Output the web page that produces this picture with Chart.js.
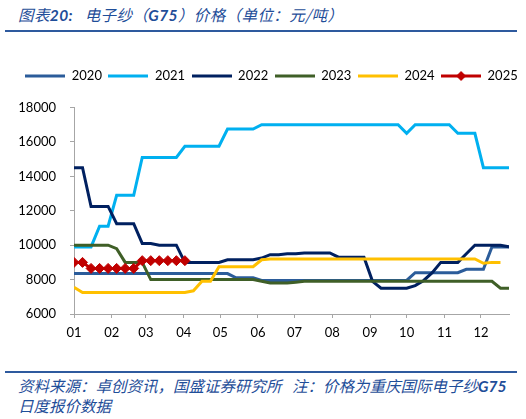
<!DOCTYPE html>
<html>
<head>
<meta charset="utf-8">
<script src="https://cdn.jsdelivr.net/npm/chart.js@4/dist/chart.umd.min.js"></script>
<style>
  html, body { margin: 0; padding: 0; background: #fff; }
  body { width: 526px; height: 419px; position: relative; overflow: hidden; }
  .cjk { font-family: "Noto Sans CJK SC", sans-serif; font-style: italic; color: #1F4E99; }
  .lat { font-family: "Lato", sans-serif; font-weight: bold; font-style: italic; }
  #title { position: absolute; left: 18px; top: 4px; font-size: 15.5px; line-height: 20px; letter-spacing: 0.4px; white-space: nowrap; }
  .rule { position: absolute; left: 5px; width: 512px; height: 2px; background: #2E5A9E; }
  #wrap { position: absolute; left: 0; top: 40px; width: 526px; height: 310px; }
  #source { position: absolute; left: 18px; top: 376px; font-size: 15.5px; line-height: 19px; white-space: nowrap; }
</style>
</head>
<body>
<div id="title" class="cjk">图表<span class="lat">20:</span>&nbsp;&nbsp; 电子纱（<span class="lat">G75</span>）价格（单位：元/吨）</div>
<div class="rule" style="top:30px"></div>
<div id="wrap"><canvas id="priceChart"></canvas></div>
<div class="rule" style="top:371px"></div>
<div id="source" class="cjk">资料来源：卓创资讯，国盛证券研究所&nbsp;&nbsp; 注：价格为重庆国际电子纱<span class="lat">G75</span><br>日度报价数据</div>

<script>
// week index of the year (x axis), month tick positions and labels
const weekIndex = Array.from({ length: 52 }, (_, i) => i);
const monthTicks = [0, 4.43, 8.43, 12.86, 17.14, 21.57, 25.86, 30.29, 34.71, 39, 43.43, 47.71];
const monthLabels = ["01", "02", "03", "04", "05", "06", "07", "08", "09", "10", "11", "12"];
const yTicks = [6000, 8000, 10000, 12000, 14000, 16000, 18000];

const y2020 = [
  8350, 8350, 8350, 8350, 8350, 8350, 8350, 8350, 8350, 8350, 8350, 8350, 8350,
  8350, 8350, 8350, 8350, 8350, 8350, 8100, 8100, 8100, 7950, 7950, 7950, 7950,
  7950, 7950, 7950, 7950, 7950, 7950, 7950, 7950, 7950, 7950, 7950, 7950, 7950,
  7950, 8400, 8400, 8400, 8400, 8400, 8400, 8600, 8600, 8600, 9900, 9900, 9900,
];
const y2021 = [
  9900, 9900, 9900, 11100, 11100, 12900, 12900, 12900, 15100, 15100, 15100, 15100, 15100,
  15750, 15750, 15750, 15750, 15750, 16750, 16750, 16750, 16750, 17000, 17000, 17000, 17000,
  17000, 17000, 17000, 17000, 17000, 17000, 17000, 17000, 17000, 17000, 17000, 17000, 17000,
  16500, 17000, 17000, 17000, 17000, 17000, 16500, 16500, 16500, 14500, 14500, 14500, 14500,
];
const y2022 = [
  14500, 14500, 12250, 12250, 12250, 11250, 11250, 11250, 10100, 10100, 10000, 10000, 10000,
  9000, 9000, 9000, 9000, 9000, 9150, 9150, 9150, 9150, 9250, 9450, 9450, 9500,
  9500, 9550, 9550, 9550, 9550, 9300, 9300, 9300, 9300, 7900, 7500, 7500, 7500,
  7500, 7650, 7950, 8400, 9000, 9000, 9000, 9500, 10000, 10000, 10000, 10000, 9900,
];
const y2023 = [
  10000, 10000, 10000, 10000, 10000, 9800, 9000, 9000, 9000, 8000, 8000, 8000, 8000,
  8000, 8000, 8000, 8000, 8000, 8000, 8000, 8000, 8000, 7900, 7800, 7800, 7800,
  7850, 7900, 7900, 7900, 7900, 7900, 7900, 7900, 7900, 7900, 7900, 7900, 7900,
  7900, 7900, 7900, 7900, 7900, 7900, 7900, 7900, 7900, 7900, 7900, 7500, 7500,
];
const y2024 = [
  7550, 7250, 7250, 7250, 7250, 7250, 7250, 7250, 7250, 7250, 7250, 7250, 7250,
  7250, 7350, 7900, 7900, 8750, 8750, 8750, 8750, 8750, 9150, 9200, 9200, 9200,
  9200, 9200, 9200, 9200, 9200, 9200, 9200, 9200, 9200, 9200, 9200, 9200, 9200,
  9200, 9200, 9200, 9200, 9200, 9200, 9200, 9200, 9200, 8950, 9000, 9000,
];
const y2025 = [9000, 9000, 8650, 8650, 8650, 8650, 8650, 8650, 9100, 9100, 9100, 9100, 9100, 9100];

const seriesNames = ["2020", "2021", "2022", "2023", "2024", "2025"];
const seriesData = [y2020, y2021, y2022, y2023, y2024, y2025];
const seriesColors = ["#2B5C9A", "#00B0F0", "#002060", "#3F5F27", "#FFC000", "#C00000"];

const FONT = "Lato, 'Liberation Sans', sans-serif";

// legend sample: a short line, with a diamond for the marked series
function legendSwatch(color, marker) {
  const c = document.createElement("canvas");
  c.width = 40;
  c.height = 12;
  const g = c.getContext("2d");
  g.strokeStyle = color;
  g.lineWidth = 3;
  g.beginPath();
  g.moveTo(0, 6);
  g.lineTo(40, 6);
  g.stroke();
  if (marker) {
    g.fillStyle = color;
    g.beginPath();
    g.moveTo(20, 1);
    g.lineTo(25, 6);
    g.lineTo(20, 11);
    g.lineTo(15, 6);
    g.closePath();
    g.fill();
  }
  return c;
}

const datasets = seriesNames.map(function (name, i) {
  const marked = name === "2025";
  return {
    label: name,
    data: seriesData[i],
    borderColor: seriesColors[i],
    backgroundColor: seriesColors[i],
    borderWidth: 3,
    tension: 0,
    pointRadius: marked ? 5 : 0,
    pointStyle: "rectRot",
    pointBackgroundColor: seriesColors[i],
    pointBorderColor: seriesColors[i],
    pointBorderWidth: 1,
    order: seriesNames.length - i,
    swatch: legendSwatch(seriesColors[i], marked),
  };
});

// extra room under the legend
const legendGap = {
  id: "legendGap",
  beforeInit(chart) {
    const fit = chart.legend.fit;
    chart.legend.fit = function () {
      fit.bind(chart.legend)();
      this.height += 15;
    };
  },
};

new Chart(document.getElementById("priceChart"), {
  type: "line",
  data: { labels: weekIndex, datasets: datasets },
  plugins: [legendGap],
  options: {
    responsive: true,
    maintainAspectRatio: false,
    animation: false,
    layout: { padding: { top: 23, right: 0, bottom: 0, left: 17 } },
    plugins: {
      tooltip: { enabled: false },
      legend: {
        position: "top",
        labels: {
          usePointStyle: true,
          pointStyleWidth: 40,
          padding: 6.5,
          color: "#000",
          font: { family: FONT, size: 13 },
          generateLabels(chart) {
            return chart.data.datasets.map(function (ds, i) {
              return {
                text: ds.label,
                pointStyle: ds.swatch,
                fillStyle: ds.borderColor,
                strokeStyle: ds.borderColor,
                lineWidth: 0,
                hidden: false,
                datasetIndex: i,
                fontColor: "#000",
              };
            });
          },
        },
      },
    },
    scales: {
      x: {
        type: "linear",
        min: 0,
        max: 51,
        afterFit(scale) {
          scale.height = 36;
        },
        afterBuildTicks(scale) {
          scale.ticks = monthTicks.map((v) => ({ value: v }));
        },
        grid: { drawOnChartArea: false, drawTicks: true, tickLength: 4, color: "#A6A6A6" },
        border: { color: "#A6A6A6", width: 1 },
        ticks: {
          autoSkip: false,
          maxRotation: 0,
          padding: 7,
          color: "#000",
          font: { family: FONT, size: 13 },
          callback: (v, i) => monthLabels[i],
        },
      },
      y: {
        min: 6000,
        max: 18000,
        afterFit(scale) {
          scale.width = 57;
        },
        afterBuildTicks(scale) {
          scale.ticks = yTicks.map((v) => ({ value: v }));
        },
        grid: { drawOnChartArea: false, drawTicks: true, tickLength: 4, color: "#A6A6A6" },
        border: { color: "#A6A6A6", width: 1 },
        ticks: {
          padding: 14,
          color: "#000",
          font: { family: FONT, size: 13 },
          callback: (v) => String(v),
        },
      },
      // empty right-hand strip so the plot stops short of the legend's right edge
      spacer: {
        type: "linear",
        position: "right",
        display: true,
        afterFit(scale) {
          scale.width = 17;
        },
        grid: { display: false },
        border: { display: false },
        ticks: { display: false },
      },
    },
  },
});
</script>
</body>
</html>
